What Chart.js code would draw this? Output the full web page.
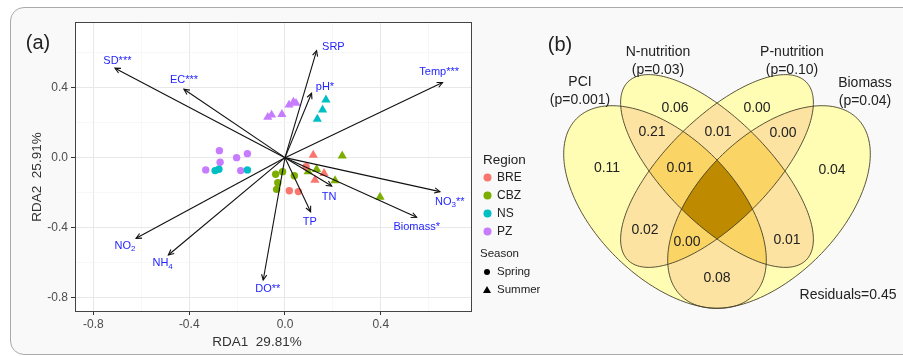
<!DOCTYPE html>
<html>
<head>
<meta charset="utf-8">
<script src="https://cdn.jsdelivr.net/npm/chart.js@4.4.1/dist/chart.umd.min.js"></script>
<style>
  html, body { margin: 0; padding: 0; background: #fff; }
  #wrap { position: relative; width: 903px; height: 357px; overflow: hidden; }
  #frame { position: absolute; left: 10px; top: 7px; width: 910px; height: 346px;
           border: 1.5px solid #aaa; border-radius: 14px; background: #f9f9f9; }
  #rda { position: absolute; left: 0; top: 0; }
  #venn { position: absolute; left: 540px; top: 0; }
</style>
</head>
<body>
<div id="wrap">
  <div id="frame"></div>
  <canvas id="rda" width="540" height="357"></canvas>
  <canvas id="venn" width="363" height="357"></canvas>
</div>
<script>
// ---- (a) RDA biplot data ----
const regions = ['BRE', 'CBZ', 'NS', 'PZ'];
const regionColors = ['#F8766D', '#7CAE00', '#00BFC4', '#C77CFF'];
const seasons = ['Spring', 'Summer'];

// site scores [RDA1, RDA2]
const breSpring = [[0.088, -0.051], [0.018, -0.189], [0.056, -0.194]];
const breSummer = [[0.118, 0.015], [0.163, -0.089], [0.125, -0.128]];
const cbzSpring = [[-0.039, -0.095], [-0.010, -0.080], [0.039, -0.103], [-0.030, -0.143], [-0.035, -0.181]];
const cbzSummer = [[0.239, 0.010], [0.132, -0.067], [0.097, -0.080], [0.209, -0.131], [0.397, -0.225]];
const nsSpring = [[-0.292, -0.074], [-0.276, -0.066], [-0.157, -0.070]];
const nsSummer = [[0.171, 0.330], [0.157, 0.273], [0.135, 0.221]];
const pzSpring = [[-0.274, 0.040], [-0.271, -0.026], [-0.202, 0.000], [-0.157, 0.023], [-0.331, -0.070], [-0.185, -0.074]];
const pzSummer = [[-0.072, 0.231], [-0.056, 0.244], [-0.013, 0.248], [0.017, 0.301], [0.035, 0.317], [0.046, 0.311]];

// environmental vectors (arrow tips) and their label anchors
const envVars = ['SD***', 'EC***', 'SRP', 'pH*', 'Temp***', 'NO_3**', 'Biomass*', 'TN', 'TP', 'DO**', 'NH_4', 'NO_2'];
const envX = [-0.710, -0.422, 0.132, 0.111, 0.658, 0.647, 0.550, 0.195, 0.107, -0.091, -0.487, -0.622];
const envY = [0.511, 0.391, 0.611, 0.368, 0.429, -0.194, -0.341, -0.162, -0.309, -0.699, -0.556, -0.461];
const envLabelX = [-0.700, -0.422, 0.202, 0.167, 0.644, 0.688, 0.550, 0.184, 0.104, -0.072, -0.511, -0.668];
const envLabelY = [0.553, 0.444, 0.634, 0.402, 0.488, -0.251, -0.398, -0.226, -0.366, -0.752, -0.603, -0.503];

const gridSteps = [-0.8, -0.6, -0.4, -0.2, 0, 0.2, 0.4, 0.6];
const xTitle = 'RDA1  29.81%';
const yTitle = 'RDA2  25.91%';

// ---- (b) variation partitioning (Venn) data ----
const vennSets = ['PCI', 'N-nutrition', 'P-nutrition', 'Biomass'];
const vennP = ['(p=0.001)', '(p=0.03)', '(p=0.10)', '(p=0.04)'];
const vennCx = [-0.52, 0, 0, 0.52];
const vennCy = [-0.36, 0, 0, -0.36];
const vennA = [1.25, 1.26, 1.26, 1.25];
const vennB = [0.70, 0.52, 0.52, 0.70];
const vennRot = [-45, -45, 45, 45];
const fractionValues = ['0.11', '0.06', '0.00', '0.04', '0.21', '0.01', '0.00', '0.01', '0.02', '0.00', '0.01', '0.08'];
const fractionX = [-1.10, -0.42, 0.40, 1.15, -0.65, 0.01, 0.66, -0.37, -0.72, -0.30, 0.70, 0.00];
const fractionY = [0.03, 0.63, 0.63, 0.01, 0.39, 0.39, 0.38, 0.03, -0.59, -0.71, -0.69, -1.07];
const setLabelX = [-1.37, -0.59, 0.75, 1.48];
const setLabelY = [0.89, 1.19, 1.19, 0.88];
const residualText = 'Residuals=0.45';
const residualX = 1.31, residualY = -1.24;

const FONT = '"Liberation Sans", Arial, Helvetica, sans-serif';
const depthColors = ['#FFFDB4', '#FCE3A2', '#FAD566', '#BE8B00'];

const isMajor = v => Math.abs(v / 0.4 - Math.round(v / 0.4)) < 1e-6;

// text with _digit subscripts (NO_3, NH_4 ...)
function drawRich(ctx, text, x, y, size) {
  const parts = [];
  text.split(/(_\d)/).forEach(p => {
    if (!p) return;
    if (p[0] === '_') parts.push({ t: p.slice(1), sub: true });
    else parts.push({ t: p, sub: false });
  });
  const fN = size + 'px ' + FONT, fS = Math.round(size * 0.72) + 'px ' + FONT;
  let w = 0;
  parts.forEach(p => { ctx.font = p.sub ? fS : fN; p.w = ctx.measureText(p.t).width; w += p.w; });
  let cx = x - w / 2;
  ctx.textAlign = 'left';
  ctx.textBaseline = 'middle';
  parts.forEach(p => {
    ctx.font = p.sub ? fS : fN;
    ctx.fillText(p.t, cx, p.sub ? y + size * 0.3 : y);
    cx += p.w;
  });
}

// ---------- chart (a) ----------
const springSets = [breSpring, cbzSpring, nsSpring, pzSpring];
const summerSets = [breSummer, cbzSummer, nsSummer, pzSummer];
const rdaDatasets = [];
regions.forEach((r, i) => {
  [springSets[i], summerSets[i]].forEach((pts, s) => {
    rdaDatasets.push({
      label: r + ' ' + seasons[s],
      data: pts.map(p => ({ x: p[0], y: p[1] })),
      pointStyle: s ? 'triangle' : 'circle',
      pointRadius: s ? 5.3 : 3.7,
      backgroundColor: regionColors[i],
      borderWidth: 0,
      order: 1
    });
  });
});
envVars.forEach((v, i) => {
  rdaDatasets.push({
    label: v,
    data: [{ x: 0, y: 0 }, { x: envX[i], y: envY[i] }],
    showLine: true,
    borderColor: '#111',
    borderWidth: 1.1,
    pointRadius: 0,
    fill: false,
    order: 0
  });
});

const rdaDecor = {
  id: 'rdaDecor',
  beforeDraw(chart) {
    const { ctx, chartArea: a } = chart;
    ctx.save();
    ctx.fillStyle = '#fff';
    ctx.fillRect(a.left, a.top, a.right - a.left, a.bottom - a.top);
    ctx.restore();
  },
  afterDatasetsDraw(chart) {
    const { ctx, scales: { x, y } } = chart;
    ctx.save();
    // arrow heads
    ctx.strokeStyle = '#111';
    ctx.lineWidth = 1.1;
    const ox = x.getPixelForValue(0), oy = y.getPixelForValue(0);
    envVars.forEach((v, i) => {
      const tx = x.getPixelForValue(envX[i]), ty = y.getPixelForValue(envY[i]);
      const ang = Math.atan2(ty - oy, tx - ox);
      const len = 6;
      ctx.beginPath();
      ctx.moveTo(tx - len * Math.cos(ang - 0.45), ty - len * Math.sin(ang - 0.45));
      ctx.lineTo(tx, ty);
      ctx.lineTo(tx - len * Math.cos(ang + 0.45), ty - len * Math.sin(ang + 0.45));
      ctx.stroke();
    });
    // arrow labels
    ctx.fillStyle = '#2424ff';
    envVars.forEach((v, i) => {
      drawRich(ctx, v, x.getPixelForValue(envLabelX[i]), y.getPixelForValue(envLabelY[i]), 11);
    });
    ctx.restore();
  },
  afterDraw(chart) {
    const { ctx, chartArea: a } = chart;
    ctx.save();
    ctx.strokeStyle = '#444';
    ctx.lineWidth = 1;
    ctx.strokeRect(a.left + 0.5, a.top + 0.5, a.right - a.left - 1, a.bottom - a.top);
    // axis titles
    ctx.fillStyle = '#333';
    ctx.font = '13.5px ' + FONT;
    ctx.textAlign = 'center';
    ctx.textBaseline = 'middle';
    ctx.fillText(xTitle, a.left + 182, a.bottom + 31);
    ctx.save();
    ctx.translate(37, a.top + 155);
    ctx.rotate(-Math.PI / 2);
    ctx.fillText(yTitle, 0, 0);
    ctx.restore();
    // panel tag
    ctx.fillStyle = '#222';
    ctx.font = '20px ' + FONT;
    ctx.fillText('(a)', 38, 43);
    // legend
    const lx = a.right + 8;
    ctx.textAlign = 'left';
    ctx.fillStyle = '#222';
    ctx.font = '13.5px ' + FONT;
    ctx.fillText('Region', lx + 3, 160);
    ctx.font = '12px ' + FONT;
    regions.forEach((r, i) => {
      const cy = 177.5 + 18 * i;
      ctx.fillStyle = regionColors[i];
      ctx.beginPath();
      ctx.arc(lx + 7.5, cy, 4, 0, Math.PI * 2);
      ctx.fill();
      ctx.fillStyle = '#222';
      ctx.fillText(r, lx + 17, cy);
    });
    ctx.font = '11.5px ' + FONT;
    ctx.fillText('Season', lx, 254);
    seasons.forEach((s, i) => {
      const cy = 272 + 18 * i;
      ctx.fillStyle = '#000';
      ctx.beginPath();
      if (i === 0) {
        ctx.arc(lx + 7, cy, 3, 0, Math.PI * 2);
      } else {
        ctx.moveTo(lx + 7, cy - 4);
        ctx.lineTo(lx + 11, cy + 3);
        ctx.lineTo(lx + 3, cy + 3);
        ctx.closePath();
      }
      ctx.fill();
      ctx.fillStyle = '#222';
      ctx.fillText(s, lx + 17, cy);
    });
    ctx.restore();
  }
};

const tickFont = { family: FONT, size: 12 };
new Chart(document.getElementById('rda'), {
  type: 'scatter',
  data: { datasets: rdaDatasets },
  options: {
    responsive: false,
    animation: false,
    layout: { padding: { left: 0, right: 68, top: 22, bottom: 0 } },
    plugins: { legend: { display: false }, tooltip: { enabled: false } },
    scales: {
      x: {
        type: 'linear', min: -0.877, max: 0.781,
        afterBuildTicks: s => { s.ticks = gridSteps.map(v => ({ value: v })); },
        afterFit: s => { s.height = 46; },
        ticks: { callback: v => isMajor(v) ? v.toFixed(1) : '', color: '#4d4d4d', font: tickFont,
                 padding: 2, maxRotation: 0, autoSkip: false },
        grid: {
          color: c => isMajor(c.tick.value) ? '#e8e8e8' : '#f3f3f3',
          lineWidth: c => isMajor(c.tick.value) ? 1 : 0.7,
          tickColor: c => isMajor(c.tick.value) ? '#333' : 'rgba(0,0,0,0)',
          tickLength: 4
        },
        border: { display: false }
      },
      y: {
        type: 'linear', min: -0.876, max: 0.775,
        afterBuildTicks: s => { s.ticks = gridSteps.map(v => ({ value: v })); },
        afterFit: s => { s.width = 75; },
        ticks: { callback: v => isMajor(v) ? v.toFixed(1) : '', color: '#4d4d4d', font: tickFont,
                 padding: 3, autoSkip: false },
        grid: {
          color: c => isMajor(c.tick.value) ? '#e8e8e8' : '#f3f3f3',
          lineWidth: c => isMajor(c.tick.value) ? 1 : 0.7,
          tickColor: c => isMajor(c.tick.value) ? '#333' : 'rgba(0,0,0,0)',
          tickLength: 4
        },
        border: { display: false }
      }
    }
  },
  plugins: [rdaDecor]
});

// ---------- chart (b) ----------
function ellipsePath(ctx, chart, i) {
  const xs = chart.scales.x, ys = chart.scales.y;
  const r = vennRot[i] * Math.PI / 180;
  ctx.beginPath();
  for (let k = 0; k <= 180; k++) {
    const t = k / 180 * 2 * Math.PI;
    const u = vennA[i] * Math.cos(t), v = vennB[i] * Math.sin(t);
    const px = xs.getPixelForValue(vennCx[i] + u * Math.cos(r) - v * Math.sin(r));
    const py = ys.getPixelForValue(vennCy[i] + u * Math.sin(r) + v * Math.cos(r));
    if (k) ctx.lineTo(px, py); else ctx.moveTo(px, py);
  }
  ctx.closePath();
}

const vennDecor = {
  id: 'vennDecor',
  beforeDatasetsDraw(chart) {
    const { ctx, width, height } = chart;
    const masks = [];
    for (let m = 1; m < 16; m++) masks.push(m);
    const bits = m => [0, 1, 2, 3].filter(b => m & (1 << b));
    masks.sort((p, q) => bits(p).length - bits(q).length);
    masks.forEach(m => {
      const members = bits(m);
      ctx.save();
      members.forEach(i => { ellipsePath(ctx, chart, i); ctx.clip(); });
      ctx.fillStyle = depthColors[members.length - 1];
      ctx.fillRect(0, 0, width, height);
      ctx.restore();
    });
    ctx.save();
    ctx.strokeStyle = 'rgba(60,55,30,0.85)';
    ctx.lineWidth = 1;
    vennSets.forEach((s, i) => { ellipsePath(ctx, chart, i); ctx.stroke(); });
    ctx.restore();
  },
  afterDatasetsDraw(chart) {
    const { ctx, scales: { x, y } } = chart;
    ctx.save();
    ctx.fillStyle = '#222';
    ctx.textAlign = 'center';
    ctx.textBaseline = 'middle';
    ctx.font = '14px ' + FONT;
    const meta = chart.getDatasetMeta(0);
    meta.data.forEach((pt, i) => ctx.fillText(fractionValues[i], pt.x, pt.y));
    vennSets.forEach((s, i) => {
      const px = x.getPixelForValue(setLabelX[i]), py = y.getPixelForValue(setLabelY[i]);
      ctx.fillText(s, px, py);
      ctx.fillText(vennP[i], px, py + 18);
    });
    ctx.fillText(residualText, x.getPixelForValue(residualX), y.getPixelForValue(residualY));
    ctx.font = '20px ' + FONT;
    ctx.fillText('(b)', 20, 45);
    ctx.restore();
  }
};

new Chart(document.getElementById('venn'), {
  type: 'scatter',
  data: {
    datasets: [{
      label: 'fractions',
      data: fractionX.map((v, i) => ({ x: v, y: fractionY[i] })),
      pointRadius: 0
    }]
  },
  options: {
    responsive: false,
    animation: false,
    layout: { padding: 0 },
    plugins: { legend: { display: false }, tooltip: { enabled: false } },
    scales: {
      x: { type: 'linear', min: -1.77, max: 1.86, display: false },
      y: { type: 'linear', min: -1.86, max: 1.71, display: false }
    }
  },
  plugins: [vennDecor]
});
</script>
</body>
</html>
